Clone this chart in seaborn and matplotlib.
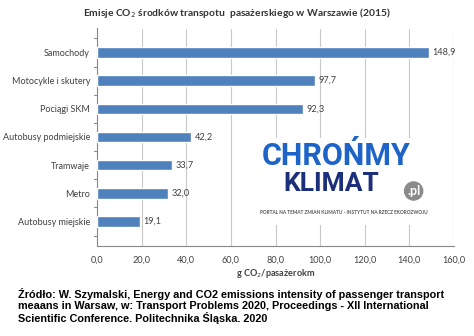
import matplotlib
matplotlib.use("Agg")
import matplotlib.pyplot as plt
import seaborn as sns
import pandas as pd
from matplotlib.patches import Rectangle

categories = ["Samochody", "Motocykle i skutery", "Pociągi SKM", "Autobusy podmiejskie",
              "Tramwaje", "Metro", "Autobusy miejskie"]
values = [148.9, 97.7, 92.3, 42.2, 33.7, 32.0, 19.1]
xticks = [0, 20, 40, 60, 80, 100, 120, 140, 160]

df = pd.DataFrame({"cat": categories, "val": values})

sns.set_theme(style="white")
plt.rcParams['font.family'] = ['Lato', 'DejaVu Sans']

fig = plt.figure(figsize=(4.74, 3.36), dpi=100)
ax = fig.add_axes([97/474, 1-245.5/336, (454-97)/474, (245.5-28.5)/336])

sns.barplot(data=df, x="val", y="cat", orient="h", color="#4F81BD", width=0.37,
            saturation=1, ax=ax, zorder=3)

ax.set_xlim(0, 160)
ax.set_xticks(xticks)
ax.set_xticklabels([f"{t:.1f}".replace(".", ",") for t in xticks], fontsize=6.6, color="#404040")
ax.tick_params(axis="y", labelsize=6.5, labelcolor="#404040", length=0, pad=5)
ax.tick_params(axis="x", length=4, color="#888888", direction="out", pad=3)
ax.xaxis.grid(True, color="#c8c8c8", linewidth=0.8, zorder=0)
ax.set_axisbelow(True)
for s in ["top", "right"]:
    ax.spines[s].set_visible(False)
for s in ["left", "bottom"]:
    ax.spines[s].set_color("#888888")
    ax.spines[s].set_linewidth(0.8)
ax.set_ylabel("")
ax.set_xlabel("g CO$_2$/pasażerokm", fontsize=6.6, fontweight="bold", color="#404040", labelpad=2)

# category boundary ticks on the y-axis
for i in range(len(categories) + 1):
    ax.plot([-1.5, 0], [i - 0.5, i - 0.5], color="#888888", lw=0.8, clip_on=False, zorder=4)

for i, v in enumerate(values):
    ax.text(v + 1.5, i, f"{v:.1f}".replace(".", ","), va="center", ha="left",
            fontsize=6.6, color="#404040")

fig.text(237/474, 1-13/336, "Emisje CO$_2$ środków transpotu  pasażerskiego w Warszawie (2015)",
         ha="center", va="center", fontsize=7.4, fontweight="bold", color="#333333")

# logo box
fig.patches.append(Rectangle((250/474, 1-225/336), 190/474, 87/336, transform=fig.transFigure,
                             facecolor="white", edgecolor="none", zorder=5))
fig.text(262/474, 1-156/336, "CHROŃMY", fontsize=22, fontweight="bold", color="#1E64C8",
         family=["Roboto", "DejaVu Sans"], va="center", ha="left", zorder=6)
fig.text(283/474, 1-184/336, "KLIMAT", fontsize=19, fontweight="bold", color="#1B2F7A",
         family=["Roboto", "DejaVu Sans"], va="center", ha="left", zorder=6)
fig.text(407/474, 1-191/336, ".pl", fontsize=9, fontweight="bold", color="white",
         va="center", ha="left", zorder=7,
         bbox=dict(boxstyle="circle,pad=0.25", facecolor="#8a8a8a", edgecolor="none"))
fig.text(344/474, 1-213/336, "PORTAL NA TEMAT ZMIAN KLIMATU - INSTYTUT NA RZECZ EKOROZWOJU",
         fontsize=3.4, fontweight="bold", color="#555555", ha="center", va="center", zorder=6)

fig.text(18/474, 1-306/336,
         "Źródło: W. Szymalski, Energy and CO2 emissions intensity of passenger transport\n"
         "meaans in Warsaw, w: Transport Problems 2020, Proceedings - XII International\n"
         "Scientific Conference. Politechnika Śląska. 2020",
         fontsize=7.8, fontweight="bold", color="black", family=["Liberation Sans", "DejaVu Sans"],
         ha="left", va="center", linespacing=1.15)

fig.savefig("out.png", dpi=100, facecolor="white")
